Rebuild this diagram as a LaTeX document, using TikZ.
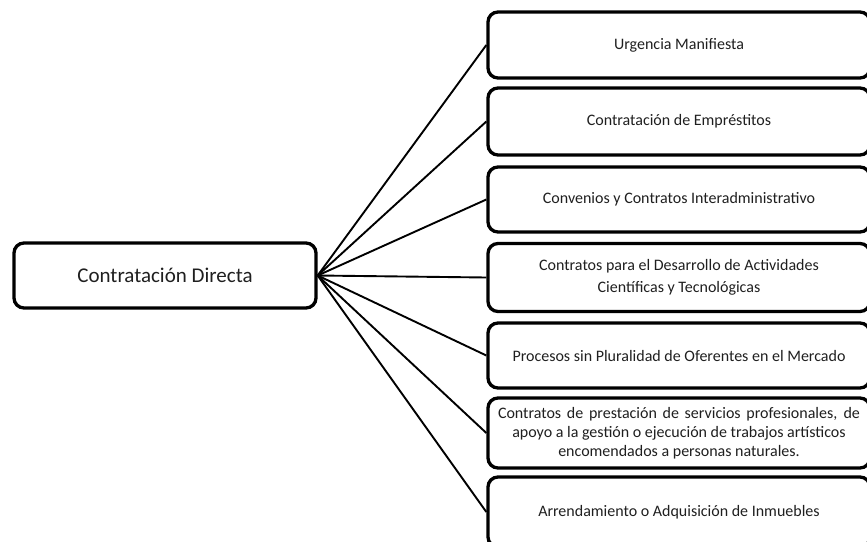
\documentclass[tikz,border=0pt]{standalone}
\usepackage{fontspec}
\setmainfont{Carlito}
\begin{document}
\begin{tikzpicture}[x=1pt,y=-1pt,
  box/.style={draw, line width=3.3pt, rounded corners=10pt, inner sep=0pt, align=center, text=black!88},
  sub/.style={box, minimum width=382pt, font=\fontsize{16}{21.5}\selectfont},
  link/.style={line width=1.9pt}]
\useasboundingbox (0,0) rectangle (867,541);
\clip (0,0) rectangle (867,541);
\node[box, minimum width=302pt, minimum height=65pt, font=\fontsize{21}{25}\selectfont] (main) at (165,275.5) {Contratación Directa};
\node[sub, minimum height=66pt] (b1) at (679,45) {Urgencia Manifiesta};
\node[sub, minimum height=67pt] (b2) at (679,121.5) {Contratación de Empréstitos};
\node[sub, minimum height=65pt] (b3) at (679,199.5) {Convenios y Contratos Interadministrativo};
\node[sub, minimum height=68pt] (b4) at (679,277.5) {Contratos para el Desarrollo de Actividades\\Científicas y Tecnológicas};
\node[sub, minimum height=65pt] (b5) at (679,355.5) {Procesos sin Pluralidad de Oferentes en el Mercado};
\node[sub, minimum height=70pt, font=\fontsize{16}{19}\selectfont] (b6) at (679,433) {\makebox[362pt][s]{Contratos de prestación de servicios profesionales, de}\\apoyo a la gestión o ejecución de trabajos artísticos\\encomendados a personas naturales.};
\node[sub, minimum height=70pt] (b7) at (679,512) {Arrendamiento o Adquisición de Inmuebles};
\foreach \b in {b1,b2,b3,b4,b5,b6,b7}
  \draw[link] (main.east) -- (\b.west);
\end{tikzpicture}
\end{document}
